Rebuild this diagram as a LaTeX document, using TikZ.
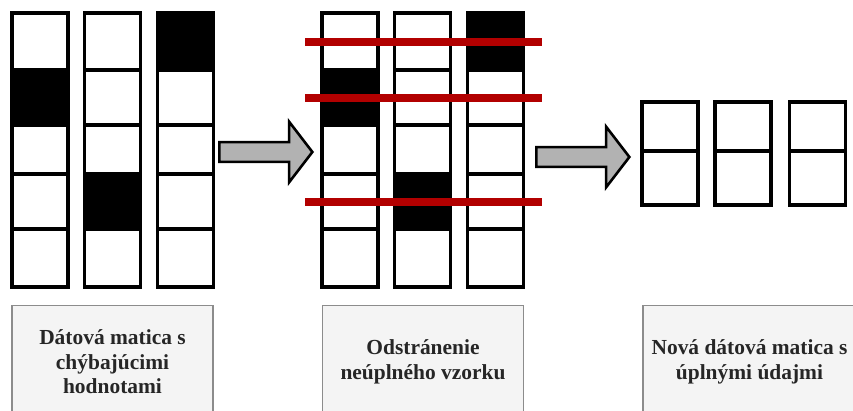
\documentclass[tikz,border=0pt]{standalone}
\usepackage{fontspec}
\setmainfont{Liberation Serif}
\usetikzlibrary{shapes.arrows}

\definecolor{strike}{RGB}{178,0,0}
\definecolor{boxfill}{RGB}{244,244,244}
\definecolor{arrowgray}{RGB}{178,178,178}

\tikzset{
  cell/.style={draw=black,line width=2.6pt},
  gap/.style={fill=black},
  cut/.style={strike,line width=6pt},
  flow/.style={single arrow,draw=black,fill=arrowgray,line width=2.2pt,
    minimum height=79.4pt,inner xsep=0pt,inner ysep=7.3pt,
    single arrow head extend=17.5pt,single arrow tip angle=105,anchor=tip},
  caption/.style={draw=black!45,fill=boxfill,line width=1.2pt,minimum width=171.5pt,
    minimum height=96pt,anchor=north,align=center,text=black!85,
    font=\bfseries\fontsize{18.3}{21}\selectfont}
}

\begin{document}
\begin{tikzpicture}[x=0.3mm,y=-0.3mm]
  \useasboundingbox (0,0) rectangle (853,410);
  \clip (0,0) rectangle (853,410);
  % two copies of the data matrix (before and after marking rows)
  \foreach \gx in {12,322}{
    \foreach \c in {0,72.8,145.5}
      \foreach \ya/\yb in {13/70,70/125,125/174,174/229,229/287}
        \draw[cell] (\gx+\c,\ya) rectangle (\gx+\c+56,\yb);
    % missing values
    \foreach \c/\ya/\yb in {0/70/125,72.8/174/229,145.5/13/70}
      \draw[cell,gap] (\gx+\c,\ya) rectangle (\gx+\c+56,\yb);
  }
  % rows with a missing value get struck out
  \foreach \y in {42,98,202}
    \draw[cut] (305,\y) -- (542,\y);
  % what is left
  \foreach \x in {642,715,789.5}
    \foreach \ya/\yb in {102/151,151/205}
      \draw[cell] (\x,\ya) rectangle (\x+56,\yb);

  \node[flow] (step1) at (314,152) {};
  \node[flow] (step2) at (631,157) {};

  \node[caption] (before) at (112.5,305) {Dátová matica s\\chýbajúcimi\\hodnotami};
  \node[caption] (drop) at (423,305) {Odstránenie\\neúplného vzorku};
  \node[caption,minimum width=182pt] (after) at (749.5,305) {Nová dátová matica s\\úplnými údajmi};
\end{tikzpicture}
\end{document}
